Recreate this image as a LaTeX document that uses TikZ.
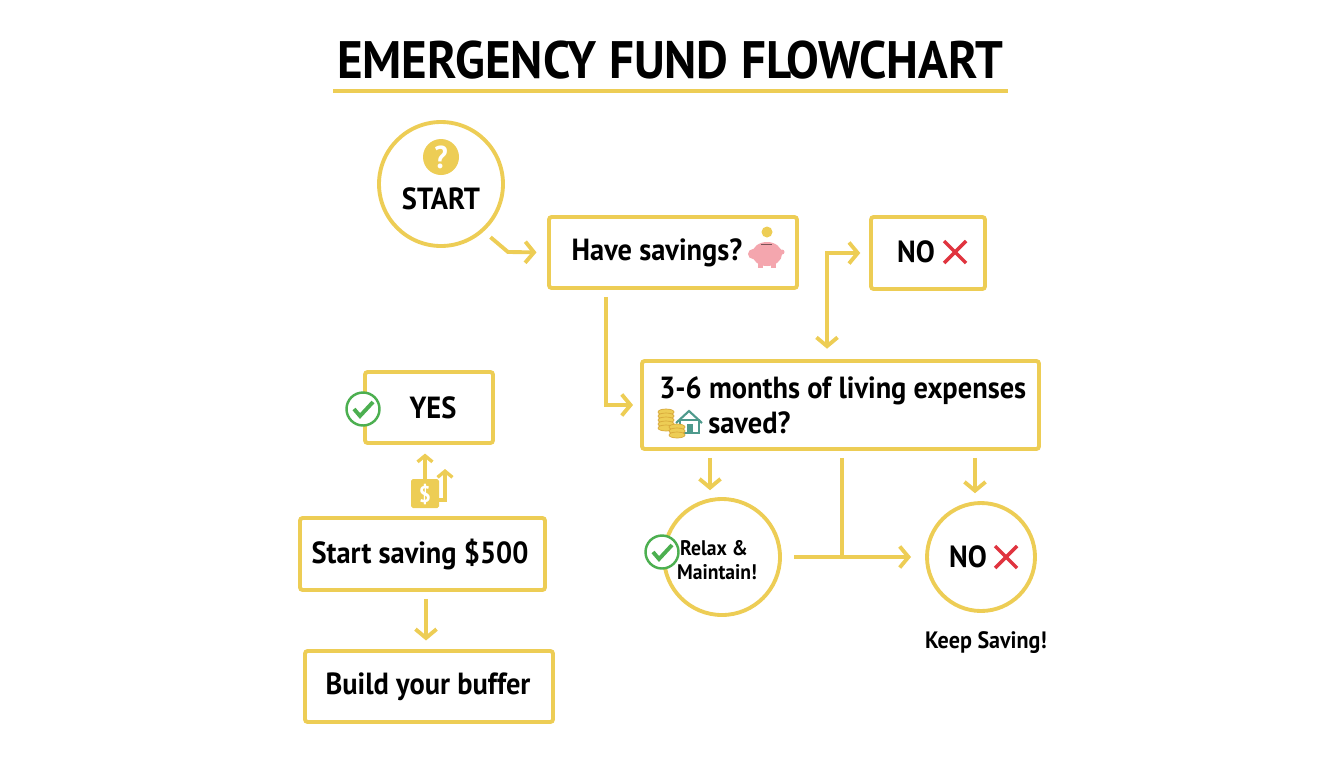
\documentclass[tikz,border=0pt]{standalone}
\usepackage{fontspec}
\setmainfont[FakeStretch=0.93]{PT Sans}
\usepackage{xcolor}
\usetikzlibrary{arrows.meta}
\definecolor{fundyellow}{HTML}{EDCD55}
\definecolor{coindark}{HTML}{D9A93A}
\definecolor{okgreen}{HTML}{4CAF50}
\definecolor{nored}{HTML}{E0343F}
\definecolor{pigpink}{HTML}{F4A6AE}
\definecolor{roofgreen}{HTML}{4E9A8C}
\tikzset{
        flow/.style = {draw = fundyellow, line width = 2.2pt, -{Straight Barb[length = 5pt, width = 12pt, line width = 2.2pt]}},
        small flow/.style = {draw = fundyellow, line width = 1.9pt, -{Straight Barb[length = 3.5pt, width = 8.5pt, line width = 1.9pt]}},
        flowline/.style = {draw = fundyellow, line width = 2.2pt},
        box/.style = {draw = fundyellow, line width = 2.2pt, rounded corners = 1.5pt, fill = white, inner sep = 0pt},
        ring/.style = {draw = fundyellow, line width = 2.2pt, circle, fill = white, inner sep = 0pt},
        label/.style = {font = \bfseries\fontsize{17.4}{20}\selectfont, text = black, inner sep = 0pt},
        small label/.style = {font = \bfseries\fontsize{12}{15}\selectfont, text = black, inner sep = 0pt},
        okmark/.pic = {
                \fill[white] (0,0) circle (17);
                \draw[okgreen, line width = 1.4pt] (0,0) circle (16.5);
                \draw[okgreen, line width = 2.2pt] (-9,0) -- (-3,7) -- (10,-7);
        },
        crossmark/.pic = {
                \draw[nored, line width = 2pt] (-11,-11) -- (11,11);
                \draw[nored, line width = 2pt] (-11,11) -- (11,-11);
        }
}
\begin{document}
\begin{tikzpicture}[x = 0.02cm, y = -0.02cm]
        \useasboundingbox (0,0) rectangle (1344,768);

        \node[font = \bfseries\fontsize{30}{36}\selectfont, inner sep = 0pt] (title) at (670, 60) {EMERGENCY FUND FLOWCHART};
        \coordinate (ruleleft) at (333, 91);
        \coordinate (ruleright) at (1008, 91);
        \draw[flowline] (ruleleft) -- (ruleright);

        \node[ring, minimum size = 124*0.02cm] (start) at (441, 184) {};
        \fill[fundyellow] (441, 157) circle (18);
        \node[font = \bfseries\fontsize{18}{20}\selectfont, text = white, inner sep = 0pt] (startmark) at (441, 157) {?};
        \node[label] (starttext) at (441, 199) {START};

        \node[box, minimum width = 248*0.02cm, minimum height = 71*0.02cm] (have) at (673, 252.5) {};
        \node[label] (havetext) at (657, 253) {Have savings?};
        \fill[fundyellow] (767, 232) circle (5.5);
        \fill[pigpink] (767, 254) ellipse (15 and 12);
        \fill[pigpink] (753, 254) circle (5);
        \fill[pigpink] (758, 262) rectangle (763, 268);
        \fill[pigpink] (771, 262) rectangle (776, 268);
        \fill[pigpink] (782, 252) circle (2.5);
        \draw[black!50!pigpink, line width = 0.5pt] (761, 244) -- (772, 244);

        \node[box, minimum width = 114*0.02cm, minimum height = 72*0.02cm] (no) at (928, 253) {};
        \node[label] (notext) at (916, 252) {NO};
        \pic at (955, 252) {crossmark};

        \node[box, minimum width = 397*0.02cm, minimum height = 88*0.02cm] (main) at (840.5, 405) {};
        \node[label, anchor = west] (mainfirst) at (659, 391) {3-6 months of living expenses};
        \node[label, anchor = west] (mainsecond) at (708, 423) {saved?};
        \draw[roofgreen, fill = white, line width = 0.6pt] (680, 420) rectangle (699, 433);
        \fill[roofgreen] (687, 424) rectangle (693, 433);
        \draw[roofgreen, line width = 1.2pt] (676, 423) -- (689, 411) -- (702, 423);
        \foreach \y in {412, 416, 420, 424, 428} {
                \draw[coindark, fill = fundyellow, line width = 0.4pt] (666, \y) ellipse (8 and 3);
        }
        \foreach \y in {427, 431, 435} {
                \draw[coindark, fill = fundyellow, line width = 0.4pt] (677, \y) ellipse (8 and 3);
        }

        \node[ring, minimum size = 116*0.02cm] (relax) at (722, 557) {};
        \pic at (662, 552) {okmark};
        \node[small label] (relaxfirst) at (714, 548) {Relax \&};
        \node[small label] (relaxsecond) at (717, 572) {Maintain!};

        \node[ring, minimum size = 108*0.02cm] (keep) at (981, 557) {};
        \node[label] (keeptext) at (968, 557) {NO};
        \pic at (1006, 557) {crossmark};
        \node[small label, font = \bfseries\fontsize{13.5}{15}\selectfont] (keepcaption) at (986, 643) {Keep Saving!};

        \node[box, minimum width = 128*0.02cm, minimum height = 71*0.02cm] (yes) at (429, 407.5) {};
        \node[label] (yestext) at (433, 408) {YES};
        \pic at (363, 409) {okmark};

        \fill[fundyellow, rounded corners = 1pt] (411, 479) rectangle (439, 508);
        \node[font = \bfseries\fontsize{13}{15}\selectfont, text = white, inner sep = 0pt] (dollar) at (425, 494) {\$};

        \node[box, minimum width = 245*0.02cm, minimum height = 72*0.02cm] (saving) at (422.5, 554) {};
        \node[label] (savingtext) at (420, 554) {Start saving \$500};

        \node[box, minimum width = 248*0.02cm, minimum height = 71*0.02cm] (buffer) at (429, 686.5) {};
        \node[label] (buffertext) at (428, 687) {Build your buffer};

        \coordinate (startbend) at (508, 252);
        \coordinate (haveout) at (606, 288);
        \coordinate (nofoot) at (827, 361);
        \coordinate (relaxin) at (710, 449);
        \coordinate (relaxtop) at (710, 499);
        \coordinate (keepin) at (975, 449);
        \coordinate (keeptop) at (975, 502);
        \coordinate (mainout) at (842, 449);
        \coordinate (mainjoin) at (842, 557);
        \coordinate (savingout) at (426, 590);
        \coordinate (bufferin) at (426, 651);
        \coordinate (dollartop) at (425, 479);
        \coordinate (yesin) at (425, 443);
        \coordinate (dollarside) at (439, 500);
        \coordinate (dollarbend) at (445, 500);
        \coordinate (dollarend) at (445, 469);

        \draw[flow, shorten < = 5pt, shorten > = 6pt] (start.-48) -- (startbend) -- (have.west);
        \draw[flow, shorten < = 5pt, shorten > = 4pt] (haveout) |- (main.west);
        \draw[flow, {Straight Barb[length = 5pt, width = 12pt, line width = 2.2pt]}-{Straight Barb[length = 5pt, width = 12pt, line width = 2.2pt]}, shorten < = 7pt, shorten > = 5pt] (nofoot) |- (no.west);
        \draw[flow, shorten < = 5pt, shorten > = 5pt] (relaxin) -- (relaxtop);
        \draw[flow, shorten < = 5pt, shorten > = 5pt] (keepin) -- (keeptop);
        \draw[flow, shorten < = 7pt, shorten > = 8pt] (relax.east) -- (keep.west);
        \draw[flowline, shorten < = 5pt] (mainout) -- (mainjoin);
        \draw[flow, shorten < = 5pt, shorten > = 6pt] (savingout) -- (bufferin);
        \draw[small flow, shorten > = 6pt] (dollartop) -- (yesin);
        \draw[small flow] (dollarside) -- (dollarbend) -- (dollarend);
\end{tikzpicture}
\end{document}
